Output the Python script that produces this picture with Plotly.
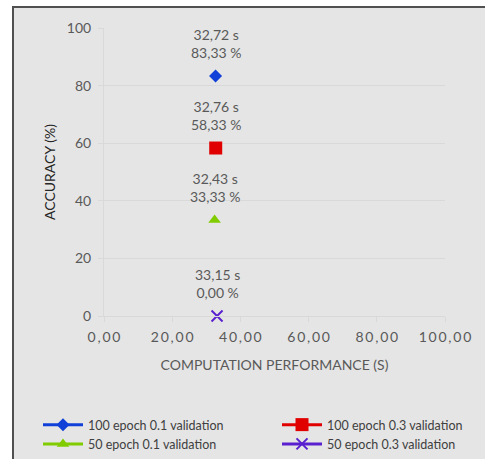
import plotly.graph_objects as go

# Results per training configuration
series_names = [
    "100 epoch 0.1 validation",
    "100 epoch 0.3 validation",
    "50 epoch 0.1 validation",
    "50 epoch 0.3 validation",
]
compute_time_s = [32.72, 32.76, 32.43, 33.15]
accuracy_pct = [83.33, 58.33, 33.33, 0.00]

x_ticks = [0, 20, 40, 60, 80, 100]
y_ticks = [0, 20, 40, 60, 80, 100]

colors = ["#1040d8", "#e00000", "#80cc00", "#5a20d0"]
symbols = ["diamond", "square", "triangle-up", "x-thin"]
sizes = [10, 13, 11, 11]
legend_column = ["legend", "legend2", "legend", "legend2"]

W, H = 485, 459
L, R, T, B = 104, 40, 28, 143
PW, PH = W - L - R, H - T - B

FONT = "Lato"
TXT = "#595959"
GRID = "#d9d9d9"
BG = "#e5e5e5"


def comma(v):
    return f"{v:.2f}".replace(".", ",")


def spaced(s):
    return "\u2009".join(s)


def px_x(p):
    return (p - L) / PW


def px_y(p):
    return (H - B - p) / PH


fig = go.Figure()
for name, xv, yv, c, s, sz, lg in zip(series_names, compute_time_s, accuracy_pct,
                                      colors, symbols, sizes, legend_column):
    marker = dict(color=c, size=sz, symbol=s)
    if s == "x-thin":
        marker["line"] = dict(color=c, width=2)
    fig.add_trace(go.Scatter(
        x=[xv], y=[yv], name=name, mode="lines+markers",
        line=dict(color=c, width=3), marker=marker, legend=lg,
        cliponaxis=False, hoverinfo="skip",
    ))
    fig.add_annotation(
        x=xv, y=yv, text=f"{comma(xv)} s<br>{comma(yv)} %",
        showarrow=False, yanchor="bottom", yshift=13,
        font=dict(family=FONT, size=14, color=TXT),
    )

# Chart panel with a dark top and left edge
fig.add_shape(type="rect", xref="paper", yref="paper", layer="below",
              x0=px_x(12), x1=px_x(W + 5), y0=px_y(H + 5), y1=px_y(6),
              fillcolor=BG, line=dict(width=0))
fig.add_shape(type="line", xref="paper", yref="paper", layer="below",
              x0=px_x(12), x1=px_x(W + 5), y0=px_y(7), y1=px_y(7),
              line=dict(color="#505050", width=2))
fig.add_shape(type="line", xref="paper", yref="paper", layer="below",
              x0=px_x(13), x1=px_x(13), y0=px_y(6), y1=px_y(H + 5),
              line=dict(color="#505050", width=2))

legend_style = dict(
    orientation="v", xanchor="left", yanchor="top",
    itemwidth=40, tracegroupgap=0, bgcolor="rgba(0,0,0,0)",
    font=dict(family=FONT, size=12.5, color="#404040"),
)

fig.update_layout(
    width=W, height=H,
    margin=dict(l=L, r=R, t=T, b=B, pad=0, autoexpand=False),
    paper_bgcolor="white",
    plot_bgcolor="rgba(0,0,0,0)",
    font=dict(family=FONT, size=14, color=TXT),
    showlegend=True,
    legend=dict(x=px_x(38), y=px_y(410), **legend_style),
    legend2=dict(x=px_x(277), y=px_y(410), **legend_style),
    xaxis=dict(
        range=[0, 100], tickvals=x_ticks,
        ticktext=[spaced(comma(v)) for v in x_ticks],
        showgrid=False, zeroline=False,
        showline=True, linecolor=GRID, linewidth=1,
        ticks="outside", ticklen=5, tickcolor=GRID,
        ticklabelstandoff=3,
        tickfont=dict(family=FONT, size=14, color=TXT),
        title=dict(text="COMPUTATION PERFORMANCE (S)", standoff=16,
                   font=dict(family=FONT, size=14, color=TXT)),
        fixedrange=True,
    ),
    yaxis=dict(
        range=[0, 100], tickvals=y_ticks,
        showgrid=True, gridcolor=GRID, gridwidth=1, zeroline=False,
        showline=True, linecolor=GRID, linewidth=1,
        ticks="outside", ticklen=5, tickcolor=GRID,
        ticklabelstandoff=4,
        tickfont=dict(family=FONT, size=14, color=TXT),
        title=dict(text="ACCURACY (%)", standoff=7,
                   font=dict(family=FONT, size=14, color="#262626")),
        fixedrange=True,
    ),
)

fig.write_html("out.html")
